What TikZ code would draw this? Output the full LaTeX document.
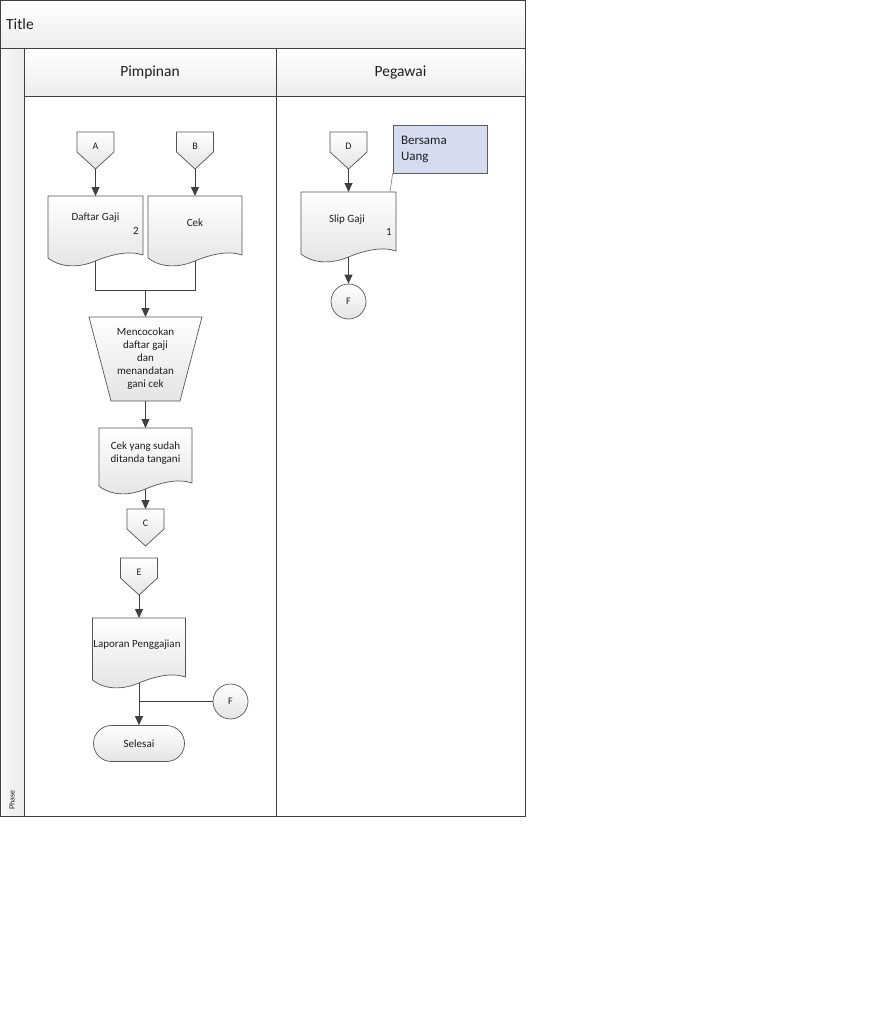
\documentclass[tikz,border=0pt]{standalone}
\usepackage{fontspec}
\setmainfont{Carlito}
\usetikzlibrary{calc,arrows.meta}
\definecolor{lanec}{RGB}{64,64,64}
\definecolor{shapec}{RGB}{85,85,85}
\definecolor{shadeb}{RGB}{228,228,228}
\definecolor{notefill}{RGB}{214,220,240}
\definecolor{txt}{RGB}{30,30,30}
\tikzset{
  lane/.style={draw=lanec, line width=0.8pt},
  band/.style={lane, top color=white, bottom color=gray!14},
  shp/.style={draw=shapec, line width=0.7pt, top color=white, bottom color=shadeb},
  anch/.style={draw=none, fill=none, inner sep=0pt, outer sep=0pt, rectangle},
  lbl/.style={text=txt, font=\fontsize{11}{13}\selectfont, align=center, inner sep=0pt},
  smalllbl/.style={text=txt, font=\fontsize{10}{11}\selectfont, inner sep=0pt},
  hdr/.style={text=txt, font=\fontsize{15.5}{17}\selectfont, inner sep=0pt},
  conn/.style={draw=lanec, line width=0.9pt},
  arr/.style={conn, -{Triangle[length=9pt,width=8pt]}},
}
% document shape: name, x0, top, width, S (wave centre), height
\newcommand{\mkdoc}[6]{%
  \path[shp] (#2,#3) -- (#2+#4,#3) -- (#2+#4,#5-6)
    .. controls (#2+0.85*#4,#5-11) and (#2+0.65*#4,#5-6) .. (#2+0.5*#4,#5)
    .. controls (#2+0.35*#4,#5+6) and (#2+0.15*#4,#5+8) .. (#2,#5-3) -- cycle;
  \node[anch, minimum width=#4pt, minimum height=#6pt, anchor=north west] (#1) at (#2,#3) {};
}
% off-page connector: name, cx, top, label
\newcommand{\mkoff}[4]{%
  \node[anch, minimum width=37pt, minimum height=37pt, anchor=north] (#1) at (#2,#3) {};
  \path[shp] (#1.north west) -- (#1.north east) -- ($(#1.north east)+(0,20)$)
    -- (#1.south) -- ($(#1.north west)+(0,20)$) -- cycle;
  \node[smalllbl] (#1-t) at ($(#1.north)+(0,14)$) {#4};
}
\begin{document}
\begin{tikzpicture}[x=1pt,y=-1pt]
\fill[white] (0,0) rectangle (869,1009);
\useasboundingbox (0,0) rectangle (869,1009);

% swimlane frame
\path[band] (0.5,0.5) rectangle (525,48);
\node[anchor=west, hdr] (title) at (6,24) {Title};
\path[lane, left color=gray!5, right color=gray!16] (0.5,48) rectangle (24,816);
\node[rotate=90, text=txt, font=\fontsize{8}{9}\selectfont, inner sep=0pt] (phase) at (12,800) {Phase};
\path[band] (24,48) rectangle (276,96);
\path[band] (276,48) rectangle (525,96);
\node[hdr] (hp) at (150,72) {Pimpinan};
\node[hdr] (hg) at (400.5,72) {Pegawai};
\draw[lane] (24,96) rectangle (276,816);
\draw[lane] (276,96) rectangle (525,816);

% Pimpinan lane
\mkoff{A}{95.5}{132}{A}
\mkoff{B}{195}{132}{B}
\mkdoc{DG}{48}{196}{95}{261}{65}
\node[lbl] (DG-t) at (95.5,218) {Daftar Gaji};
\node[lbl] (DG-n) at (136,231) {2};
\mkdoc{CK}{148}{196}{94}{261}{65}
\node[lbl] (CK-t) at (195,223) {Cek};

\coordinate (M) at (145.5,290);

\node[anch, minimum width=113pt, minimum height=84pt, anchor=north] (MC) at (145.5,317) {};
\path[shp] (MC.north west) -- (MC.north east) -- ($(MC.south east)+(-22,0)$) -- ($(MC.south west)+(22,0)$) -- cycle;
\node[lbl] (MC-t) at (MC.center) {Mencocokan\\daftar gaji\\dan\\menandatan\\gani cek};

\mkdoc{CT}{99}{428}{93}{489}{61}
\node[lbl] (CT-t) at (145.5,453) {Cek yang sudah\\ditanda tangani};

\mkoff{C}{145.5}{509}{C}
\mkoff{E}{139}{558}{E}

\mkdoc{LP}{92.5}{618}{93}{683}{65}
\node[lbl] (LP-t) at (137,645) {Laporan Penggajian};

\node[shp, circle, minimum size=35pt, inner sep=0pt, smalllbl] (F1) at (230.5,701.5) {F};
\node[shp, rounded corners=18pt, minimum width=91pt, minimum height=36pt, lbl] (SL) at (139,743.5) {Selesai};

% Pegawai lane
\mkoff{D}{348.5}{132}{D}
\mkdoc{SG}{301}{192}{95}{257}{65}
\node[lbl] (SG-t) at (347,220) {Slip Gaji};
\node[lbl] (SG-n) at (389,232) {1};
\node[circle, shp, minimum size=35pt, inner sep=0pt, smalllbl] (F2) at (348.5,301.5) {F};
\node[draw=lanec!85, line width=0.7pt, fill=notefill, minimum width=94pt, minimum height=48pt,
      text width=78pt, align=left, inner xsep=8pt, text=txt, font=\fontsize{13}{16}\selectfont] (BU) at (440,149) {Bersama\\Uang};
\coordinate (SGc) at (390,192);

% connectors
\draw[arr] (A.south) -- (DG.north);
\draw[arr] (B.south) -- (CK.north);
\draw[conn] (DG.south) |- (M);
\draw[conn] (CK.south) |- (M);
\draw[arr] (M) -- (MC.north);
\draw[arr] (MC.south) -- (CT.north);
\draw[arr] (CT.south) -- (C.north);
\draw[arr] (E.south) -- (LP.north);
\draw[arr] (LP.south) -- (SL.north);
\draw[conn] (F1.west) -- (F1.west -| LP.south);
\draw[arr] (D.south) -- (SG.north);
\draw[arr] (SG.south) -- (F2.north);
\draw[draw=gray, line width=0.6pt] (BU.south west) -- (SGc);
\end{tikzpicture}
\end{document}
